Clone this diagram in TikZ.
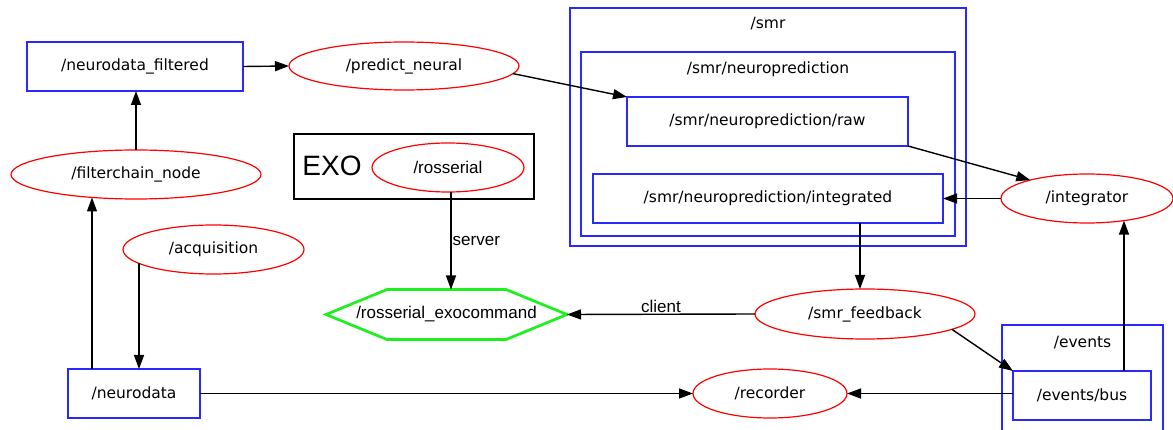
\documentclass[tikz,border=0pt]{standalone}
\usepackage{fontspec}
\setmainfont{DejaVu Sans}
\newfontfamily\arialfont{Liberation Sans}
\usetikzlibrary{shapes.geometric,arrows.meta,calc}

\definecolor{nodered}{RGB}{255,0,0}
\definecolor{topicblue}{RGB}{40,40,255}
\definecolor{actgreen}{RGB}{30,240,30}

\begin{document}
\begin{tikzpicture}[x=1pt,y=-1pt,
  font=\fontsize{15.5}{18}\selectfont,
  topicbox/.style={draw=topicblue, line width=1.2pt, rectangle, inner sep=0pt, outer sep=0pt},
  nodeell/.style={draw=nodered, line width=1.2pt, ellipse, inner sep=0pt, outer sep=0pt},
  clusterbox/.style={draw=topicblue, line width=1.2pt, rectangle, inner sep=0pt, outer sep=0pt},
  arialtext/.style={font=\arialfont\fontsize{17}{20}\selectfont},
  arr/.style={line width=1.4pt, -{Triangle[length=14pt,width=10pt]}},
  elabel/.style={arialtext, inner sep=1pt}]

\fill[white] (0,0) rectangle (1173,430);
\clip (0,0) rectangle (1173,430);

% clusters
\node[clusterbox, minimum width=396pt, minimum height=238pt] (smr) at (768,127) {};
\node (smrlbl) at (768,24) {/smr};
\node[clusterbox, minimum width=374pt, minimum height=184pt] (npred) at (768,144) {};
\node (npredlbl) at (768,69) {/smr/neuroprediction};
\node[clusterbox, minimum width=161pt, minimum height=125pt] (events) at (1082.5,387.5) {};
\node (eventslbl) at (1082.5,343) {/events};
\node[draw=black, line width=1.2pt, rectangle, inner sep=0pt, outer sep=0pt,
      minimum width=240pt, minimum height=65pt] (exo) at (414,166.5) {};
\node[font=\arialfont\fontsize{28}{30}\selectfont] (exolbl) at (332,166) {EXO};

% topics
\node[topicbox, minimum width=216pt, minimum height=49pt] (ndf) at (135,66.5) {/neurodata\_filtered};
\node[topicbox, minimum width=132pt, minimum height=49pt] (nd) at (134,393.5) {/neurodata};
\node[topicbox, minimum width=281pt, minimum height=49pt] (raw) at (767.5,121.5) {/smr/neuroprediction/raw};
\node[topicbox, minimum width=350pt, minimum height=49pt] (integ) at (768,198.5) {/smr/neuroprediction/integrated};
\node[topicbox, minimum width=138pt, minimum height=49pt] (bus) at (1082,395.5) {/events/bus};

% ROS nodes
\node[nodeell, minimum width=230pt, minimum height=48pt] (pred) at (404,66) {/predict\_neural};
\node[nodeell, minimum width=250pt, minimum height=49pt] (fc) at (136,174.5) {/filterchain\_node};
\node[nodeell, minimum width=181pt, minimum height=49pt] (acq) at (213.5,249.5) {/acquisition};
\node[nodeell, arialtext, minimum width=152pt, minimum height=49pt] (ros) at (448,167.5) {/rosserial};
\node[nodeell, minimum width=172pt, minimum height=49pt] (integrator) at (1087,198.5) {/integrator};
\node[nodeell, minimum width=220pt, minimum height=50pt] (fb) at (865,314) {/smr\_feedback};
\node[nodeell, minimum width=154pt, minimum height=49pt] (rec) at (770,393.5) {/recorder};

% action server (hexagon)
\node[arialtext, inner sep=0pt, outer sep=0pt, minimum width=241pt, minimum height=50pt] (hex) at (446.5,314.5) {/rosserial\_exocommand};
\draw[actgreen, line width=2.7pt, line join=miter]
  (hex.west) -- ([xshift=61pt]hex.north west) -- ([xshift=-61pt]hex.north east) -- (hex.east)
  -- ([xshift=-61pt]hex.south east) -- ([xshift=61pt]hex.south west) -- cycle;

% helper points for straight vertical connectors
\coordinate (ndLeft) at ([xshift=-42pt]nd.north);
\coordinate (ndRight) at ([xshift=5pt]nd.north);
\coordinate (hexTop) at ([xshift=4.5pt]hex.north);
\coordinate (fbTop) at ([xshift=-5pt]fb.north);
\coordinate (busTop) at ([xshift=42pt]bus.north);

% connectors
\draw[arr] (ndf.east) -- (pred.west);
\draw[arr] (pred.-4) -- (raw.north west);
\draw[arr] (raw.south east) -- (integrator.162);
\draw[arr] (integrator.west) -- (integ.east |- integrator.west);
\draw[arr] (integ.south -| fbTop) -- (fbTop);
\draw[arr] (fb.west) -- node[elabel, above] {client} (hex.east);
\draw[arr] (fb.-10) -- (bus.north west);
\draw[arr] (busTop) -- (busTop |- integrator.-31);
\draw[arr] (bus.west |- rec.east) -- (rec.east);
\draw[arr] (nd.east) -- (rec.west);
\draw[arr] (ndLeft) -- (ndLeft |- fc.-152.5);
\draw[arr] (fc.north) -- (fc.north |- ndf.south);
\draw[arr] (acq.190.6 -| ndRight) -- (ndRight);
\draw[arr] (ros.south -| hexTop) -- node[elabel, right] {server} (hexTop);

\end{tikzpicture}
\end{document}
